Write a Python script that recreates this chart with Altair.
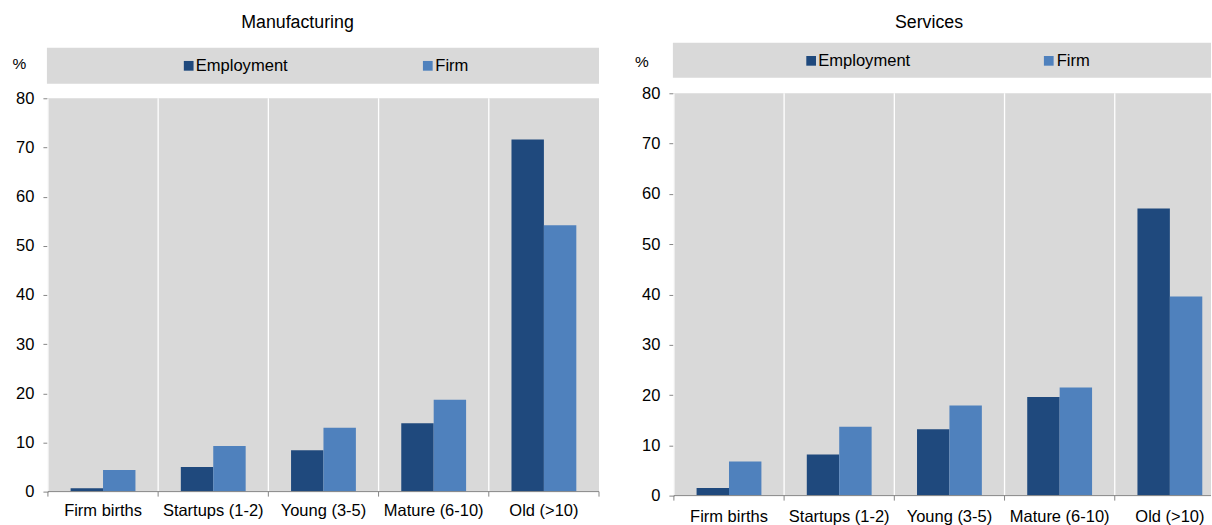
import altair as alt
import pandas as pd

# Age classes on the x axis and the two measured shares
categories = ["Firm births", "Startups (1-2)", "Young (3-5)", "Mature (6-10)", "Old (>10)"]
series = ["Employment", "Firm"]

manufacturing_employment = [0.7, 5.0, 8.4, 13.9, 71.6]
manufacturing_firm = [4.4, 9.3, 13.0, 18.7, 54.2]

services_employment = [1.5, 8.2, 13.2, 19.6, 57.1]
services_firm = [6.8, 13.7, 17.9, 21.5, 39.6]

y_ticks = [0, 10, 20, 30, 40, 50, 60, 70, 80]

COLORS = ["#1F497D", "#4F81BD"]
PANEL_BG = "#D9D9D9"
AXIS_GREY = "#868686"
FONT = "Liberation Sans"
FS_AXIS = 16.5
FS_KEY = 16.6
FS_TITLE = 17.8
FS_PCT = 15.5


def panel(title, emp, firm, width, top, height, band_span, title_x, title_y,
          pct_x, pct_y, box_y, key_y, key_sq, key_txt, label_dy):
    """One bar panel; `top` is where the 80 line sits below the view origin."""
    bottom = top + height
    df = pd.DataFrame({
        "category": categories * 2,
        "series": [series[0]] * len(categories) + [series[1]] * len(categories),
        "value": emp + firm,
    })
    cats = pd.DataFrame({"category": categories})
    one = cats.head(1)

    x_scale = alt.Scale(domain=categories, paddingInner=0, paddingOuter=0,
                        range=[0, band_span])
    y_scale = alt.Scale(domain=[0, 80], nice=False, range=[bottom, top])

    # plot-area background
    plot_bg = alt.Chart(one).mark_rect(fill=PANEL_BG).encode(
        x=alt.value(0), x2=alt.value(width), y=alt.value(top), y2=alt.value(bottom),
    )

    bars = alt.Chart(df).mark_bar().encode(
        x=alt.X("category:N", sort=categories, title=None, scale=x_scale, axis=None),
        xOffset=alt.XOffset("series:N", sort=series,
                            scale=alt.Scale(paddingInner=0, paddingOuter=0.7)),
        y=alt.Y(
            "value:Q", scale=y_scale,
            axis=alt.Axis(values=y_ticks, grid=True, gridColor="white", gridWidth=1.3,
                          domainColor=AXIS_GREY, tickColor=AXIS_GREY, tickSize=5,
                          labelPadding=9, labelFont=FONT, labelFontSize=FS_AXIS,
                          labelColor="black",
                          title="%", titleAngle=0, titleAlign="center",
                          titleBaseline="middle", titleX=pct_x, titleY=pct_y,
                          titleFont=FONT, titleFontSize=FS_PCT,
                          titleFontWeight="normal", titleColor="black"),
        ),
        color=alt.Color("series:N", scale=alt.Scale(domain=series, range=COLORS),
                        legend=None),
    )

    # vertical separators between the age classes, with tick marks below
    seps = alt.Chart(cats).mark_rule(color="white", strokeWidth=1.3).encode(
        x=alt.X("category:N", sort=categories, bandPosition=0, scale=x_scale, axis=None),
        y=alt.value(top), y2=alt.value(bottom),
    )
    ticks = alt.Chart(cats).mark_rule(color=AXIS_GREY, strokeWidth=1).encode(
        x=alt.X("category:N", sort=categories, bandPosition=0, scale=x_scale, axis=None),
        y=alt.value(bottom), y2=alt.value(bottom + 5),
    )
    ticks_end = alt.Chart(one).mark_rule(color=AXIS_GREY).encode(
        x=alt.value(band_span), y=alt.value(bottom), y2=alt.value(bottom + 5),
    )
    baseline = alt.Chart(one).mark_rule(color=AXIS_GREY, strokeWidth=1).encode(
        x=alt.value(0), x2=alt.value(width), y=alt.value(bottom),
    )
    labels = alt.Chart(cats).mark_text(
        align="center", baseline="alphabetic", font=FONT, fontSize=FS_AXIS, color="black"
    ).encode(
        x=alt.X("category:N", sort=categories, bandPosition=0.5, scale=x_scale, axis=None),
        y=alt.value(bottom + label_dy),
        text="category:N",
    )

    # grey strip holding the series key above the plot
    box = alt.Chart(one).mark_rect(fill=PANEL_BG).encode(
        x=alt.value(-1), x2=alt.value(width),
        y=alt.value(box_y[0]), y2=alt.value(box_y[1]),
    )

    head = alt.Chart(pd.DataFrame({"title": [title]})).mark_text(
        align="center", baseline="middle", font=FONT, fontSize=FS_TITLE, color="black"
    ).encode(x=alt.value(title_x), y=alt.value(title_y), text="title:N")

    keys = []
    for name, color, sx, tx in zip(series, COLORS, key_sq, key_txt):
        entry = pd.DataFrame({"series": [name]})
        keys.append(
            alt.Chart(entry).mark_square(size=95, color=color, opacity=1).encode(
                x=alt.value(sx), y=alt.value(key_y)
            )
        )
        keys.append(
            alt.Chart(entry).mark_text(align="left", baseline="middle", font=FONT,
                                       fontSize=FS_KEY, color="black").encode(
                x=alt.value(tx), y=alt.value(key_y), text="series:N"
            )
        )

    layers = [head, box, plot_bg, seps, bars, ticks, baseline, labels] + keys
    if band_span <= width:
        layers.append(ticks_end)
    return alt.layer(*layers).properties(
        width=width, height=bottom,
        view=alt.ViewBackground(fill=None, stroke=None),
    )


left = panel("Manufacturing", manufacturing_employment, manufacturing_firm,
             width=552, top=5, height=394, band_span=552,
             title_x=250, title_y=-70.5, pct_x=-29, pct_y=-29.5,
             box_y=(-45.5, -9.5), key_y=-27.5, key_sq=[141, 380.5], key_txt=[148, 388],
             label_dy=24.5)
right = panel("Services", services_employment, services_firm,
              width=538, top=0, height=403, band_span=552,
              title_x=255.5, title_y=-70.5, pct_x=-32.5, pct_y=-31.5,
              box_y=(-50.5, -15.5), key_y=-32.5, key_sq=[137.5, 375.5],
              key_txt=[144.5, 383.5], label_dy=26.5)

chart = alt.hconcat(left, right, spacing=34).properties(
    padding={"left": 12, "top": 13, "right": 0, "bottom": 0}
).configure_view(stroke=None)

chart.save("out.html", embed_options={"renderer": "svg", "actions": False})
